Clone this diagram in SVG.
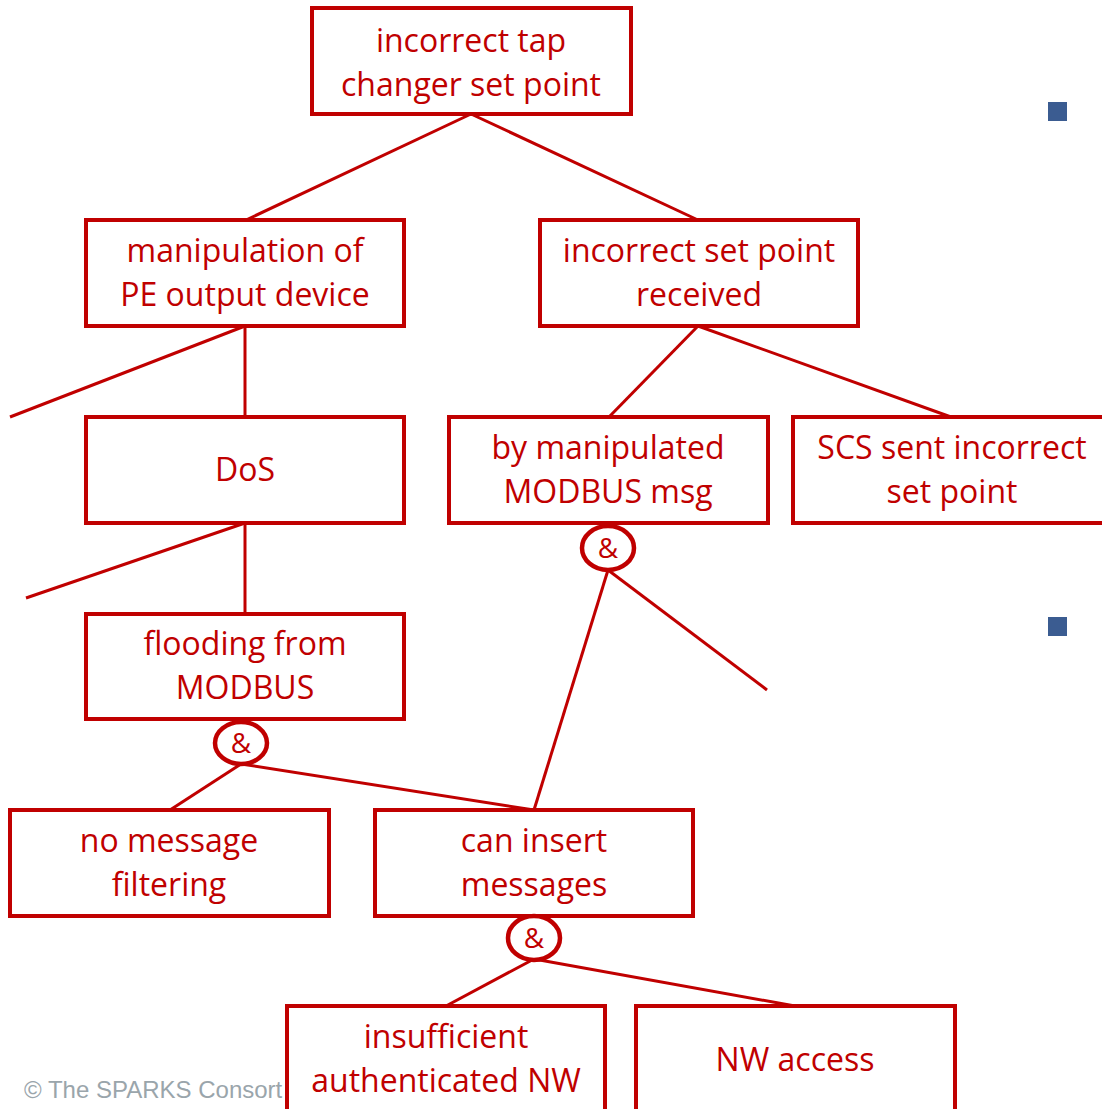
<svg xmlns="http://www.w3.org/2000/svg" width="1102" height="1109" viewBox="0 0 1102 1109">
  <style>
    .box { fill: #ffffff; stroke: #c00000; stroke-width: 4; }
    .gate { fill: #ffffff; stroke: #c00000; stroke-width: 4.5; }
    .lbl { fill: #c00000; font-family: "Open Sans", "Noto Sans", sans-serif; font-size: 32px; text-anchor: middle; }
    .amp { fill: #c00000; font-family: "Open Sans", "Noto Sans", sans-serif; font-size: 28px; text-anchor: middle; }
    .edge { stroke: #c00000; stroke-width: 3; fill: none; }
    .bullet { fill: #3b5c91; }
    .foot { fill: #9aa5ab; font-family: "Liberation Sans", Arial, sans-serif; font-size: 24px; }
  </style>
  <rect width="1102" height="1109" fill="#ffffff"/>

  <!-- slide bullets and footer -->
  <rect class="bullet" x="1048" y="102" width="19" height="19"/>
  <rect class="bullet" x="1048" y="617" width="19" height="19"/>
  <text class="foot" x="24" y="1098">© The SPARKS Consort</text>

  <!-- connectors -->
  <g id="connectors">
    <line class="edge" x1="471" y1="114" x2="246" y2="220"/>
    <line class="edge" x1="471" y1="114" x2="698" y2="220"/>
    <line class="edge" x1="245" y1="326" x2="245" y2="417"/>
    <line class="edge" x1="245" y1="326" x2="10" y2="417"/>
    <line class="edge" x1="245" y1="523" x2="245" y2="614"/>
    <line class="edge" x1="245" y1="523" x2="26" y2="598"/>
    <line class="edge" x1="698" y1="326" x2="609" y2="417"/>
    <line class="edge" x1="698" y1="326" x2="951" y2="417"/>
    <line class="edge" x1="608" y1="570" x2="534" y2="810"/>
    <line class="edge" x1="608" y1="570" x2="767" y2="690"/>
    <line class="edge" x1="241" y1="764" x2="170" y2="810"/>
    <line class="edge" x1="241" y1="764" x2="534" y2="810"/>
    <line class="edge" x1="534" y1="959" x2="446" y2="1006"/>
    <line class="edge" x1="534" y1="959" x2="795" y2="1006"/>
  </g>

  <g id="n-top">
    <rect class="box" x="312" y="8" width="319" height="106"/>
    <text class="lbl" x="471" y="52">incorrect tap</text>
    <text class="lbl" x="471" y="96">changer set point</text>
  </g>
  <g id="n-manip">
    <rect class="box" x="86" y="220" width="318" height="106"/>
    <text class="lbl" x="245" y="262">manipulation of</text>
    <text class="lbl" x="245" y="306">PE output device</text>
  </g>
  <g id="n-received">
    <rect class="box" x="540" y="220" width="318" height="106"/>
    <text class="lbl" x="699" y="262">incorrect set point</text>
    <text class="lbl" x="699" y="306">received</text>
  </g>
  <g id="n-dos">
    <rect class="box" x="86" y="417" width="318" height="106"/>
    <text class="lbl" x="245" y="481">DoS</text>
  </g>
  <g id="n-modbus-msg">
    <rect class="box" x="449" y="417" width="319" height="106"/>
    <text class="lbl" x="608" y="459">by manipulated</text>
    <text class="lbl" x="608" y="503">MODBUS msg</text>
  </g>
  <g id="n-scs">
    <rect class="box" x="793" y="417" width="320" height="106"/>
    <text class="lbl" x="952" y="459">SCS sent incorrect</text>
    <text class="lbl" x="952" y="503">set point</text>
  </g>
  <g id="n-flooding">
    <rect class="box" x="86" y="614" width="318" height="105"/>
    <text class="lbl" x="245" y="655">flooding from</text>
    <text class="lbl" x="245" y="699">MODBUS</text>
  </g>
  <g id="n-nofilter">
    <rect class="box" x="10" y="810" width="319" height="106"/>
    <text class="lbl" x="169" y="852">no message</text>
    <text class="lbl" x="169" y="896">filtering</text>
  </g>
  <g id="n-insert">
    <rect class="box" x="375" y="810" width="318" height="106"/>
    <text class="lbl" x="534" y="852">can insert</text>
    <text class="lbl" x="534" y="896">messages</text>
  </g>
  <g id="n-auth">
    <rect class="box" x="287" y="1006" width="318" height="110"/>
    <text class="lbl" x="446" y="1048">insufficient</text>
    <text class="lbl" x="446" y="1092">authenticated NW</text>
  </g>
  <g id="n-nwaccess">
    <rect class="box" x="636" y="1006" width="319" height="110"/>
    <text class="lbl" x="795" y="1071">NW access</text>
  </g>

  <!-- AND gates -->
  <g id="g-and-flooding">
    <ellipse class="gate" cx="241" cy="743" rx="26" ry="21"/>
    <text class="amp" x="241" y="753">&amp;</text>
  </g>
  <g id="g-and-modbus">
    <ellipse class="gate" cx="608" cy="548" rx="26" ry="22"/>
    <text class="amp" x="608" y="558">&amp;</text>
  </g>
  <g id="g-and-insert">
    <ellipse class="gate" cx="534" cy="938" rx="26" ry="22"/>
    <text class="amp" x="534" y="948">&amp;</text>
  </g>
</svg>
